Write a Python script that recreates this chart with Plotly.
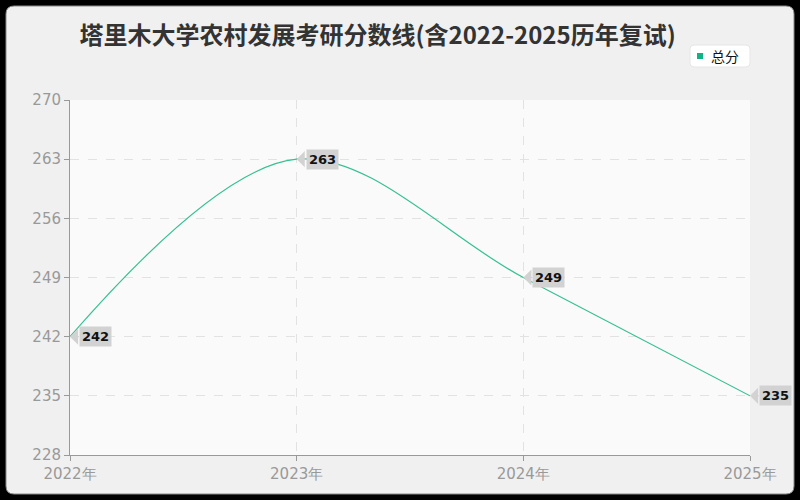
import plotly.graph_objects as go

# data
years = [2022, 2023, 2024, 2025]
scores = [242, 263, 249, 235]
year_labels = ['2022年', '2023年', '2024年', '2025年']
y_ticks = [228, 235, 242, 249, 256, 263, 270]

line_color = '#34c190'
label_bg = '#d2d2d2'

# pixel layout of the page (800x500)
W, H = 800, 500
ml, mr, mt, mb = 70, 50, 100, 45
pw, ph = W - ml - mr, H - mt - mb


def px(x):
    return (x - ml) / pw


def py(y):
    return (H - mb - y) / ph


def rounded_rect(x0, y0, x1, y1, r):
    # rounded rectangle path in paper coordinates from pixel corners
    return (f'M{px(x0 + r)},{py(y0)} L{px(x1 - r)},{py(y0)} '
            f'Q{px(x1)},{py(y0)} {px(x1)},{py(y0 + r)} '
            f'L{px(x1)},{py(y1 - r)} Q{px(x1)},{py(y1)} {px(x1 - r)},{py(y1)} '
            f'L{px(x0 + r)},{py(y1)} Q{px(x0)},{py(y1)} {px(x0)},{py(y1 - r)} '
            f'L{px(x0)},{py(y0 + r)} Q{px(x0)},{py(y0)} {px(x0 + r)},{py(y0)} Z')


fig = go.Figure()

fig.add_trace(go.Scatter(
    x=years, y=scores, mode='lines', name='总分',
    line=dict(color=line_color, width=1.2, shape='spline', smoothing=1.0),
    showlegend=False, hoverinfo='x+y',
))

# callout labels
for x, y in zip(years, scores):
    fig.add_annotation(
        x=x, y=y, text=f'<b>{y}</b>', xanchor='left', yanchor='middle',
        showarrow=True, ax=9, ay=0, arrowhead=1, arrowsize=2.7, arrowwidth=1,
        arrowcolor=label_bg, standoff=0,
        bgcolor=label_bg, borderpad=2,
        font=dict(family='DejaVu Sans', size=13, color='#111'),
    )

# legend drawn by hand (rounded white box)
fig.add_annotation(x=px(709), y=py(56), xref='paper', yref='paper',
                   text='总分', showarrow=False, xanchor='left', yanchor='middle',
                   font=dict(family='Noto Sans CJK SC', size=14, color='#111'))

shapes = [
    dict(type='path', xref='paper', yref='paper', layer='below',
         path=rounded_rect(6, 6, 794, 494, 8),
         fillcolor='#f0f0f0', line=dict(color='#8a8a8a', width=1)),
    dict(type='rect', xref='paper', yref='paper', layer='below',
         x0=0, x1=1, y0=0, y1=1, fillcolor='#fafafa', line=dict(width=0)),
    dict(type='path', xref='paper', yref='paper', layer='below',
         path=rounded_rect(690, 45, 750, 67, 4),
         fillcolor='#ffffff', line=dict(color='#e6e6e6', width=1)),
    dict(type='rect', xref='paper', yref='paper', layer='above',
         x0=px(697), x1=px(703), y0=py(53), y1=py(59),
         fillcolor='#10b383', line=dict(width=0)),
]

fig.update_layout(
    width=W, height=H,
    margin=dict(l=ml, r=mr, t=mt, b=mb),
    paper_bgcolor='#000000',
    plot_bgcolor='rgba(0,0,0,0)',
    shapes=shapes,
    showlegend=False,
    title=dict(text='塔里木大学农村发展考研分数线(含2022-2025历年复试)',
               x=0.472, xanchor='center', y=0.928, yanchor='middle',
               font=dict(family='Noto Sans CJK SC', size=24, color='#333333', weight='bold')),
    xaxis=dict(range=[2022, 2025], tickvals=years, ticktext=year_labels,
               showgrid=True, gridcolor='#e2e2e2', griddash='dash', gridwidth=1,
               showline=True, linecolor='#999999', linewidth=1,
               ticks='outside', ticklen=5, tickcolor='#999999',
               tickfont=dict(family='DejaVu Sans', size=15, color='#999999'),
               zeroline=False, fixedrange=True),
    yaxis=dict(range=[228, 270], tickvals=y_ticks,
               showgrid=True, gridcolor='#e2e2e2', griddash='dash', gridwidth=1,
               showline=True, linecolor='#999999', linewidth=1,
               ticks='outside', ticklen=5, tickcolor='#999999',
               tickfont=dict(family='DejaVu Sans', size=15, color='#999999'),
               zeroline=False, fixedrange=True),
)

fig.write_html('out.html', config={'displayModeBar': False},
               post_script="document.body.style.margin='0';")
